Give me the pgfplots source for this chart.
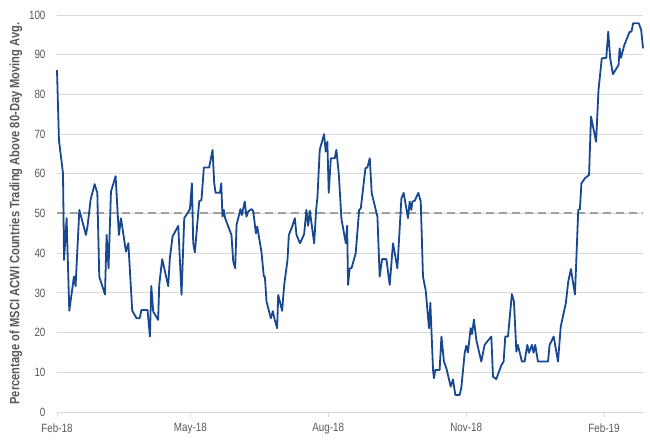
\documentclass[border=0pt]{standalone}
\usepackage{pgfplots}
\pgfplotsset{compat=1.18}
\usepackage{fontspec}
\setmainfont{Liberation Sans}[FakeStretch=0.82]
\definecolor{linecol}{RGB}{25,72,146}
\definecolor{txtgray}{RGB}{89,89,89}
\definecolor{gridgray}{RGB}{217,217,217}
\definecolor{dashgray}{RGB}{160,160,160}
\begin{document}
\begin{tikzpicture}
\begin{axis}[
  scale only axis, width=586pt, height=397pt,
  xmin=0, xmax=391, ymin=0, ymax=100,
  clip=false,
  /pgf/number format/assume math mode=true,
  separate axis lines,
  axis x line*=bottom, axis y line*=left,
  y axis line style={draw=none},
  x axis line style={draw=gridgray, line width=0.9pt},
  ytick={0,10,...,100},
  ymajorgrids,
  grid style={draw=gridgray, line width=0.9pt},
  ytick style={draw=none},
  xtick={0,89,181,273,365},
  xticklabels={Feb-18,May-18,Aug-18,Nov-18,Feb-19},
  xtick style={draw=gridgray, line width=0.8pt},
  tick align=outside, major tick length=5pt,
  ticklabel style={font=\fontsize{12}{14}\selectfont, text=txtgray},
  yticklabel style={xshift=-3pt},
  xticklabel style={yshift=-3pt},
  ylabel={Percentage of MSCI ACWI Countries Trading Above 80-Day Moving Avg.},
  every axis y label/.style={at={(axis description cs:-0.07,0.5)}, rotate=90, anchor=center,
     font=\fontsize{13.6}{15}\selectfont\bfseries, text=txtgray},
]
\addplot[draw=dashgray, line width=2pt, dash pattern=on 8pt off 5pt] coordinates {(0,50) (391,50)};
\addplot[draw=linecol, line width=1.8pt, line join=round] coordinates {
(0,86.1) (1.3,68.5) (4,60.1) (4.7,38.3) (6.4,48.8) (8.2,25.5) (11.3,34.1) (12.4,31.7)
(14.9,50.9) (19.3,44.6) (20.4,46.9) (22.4,53.4) (25.1,57.4) (26.9,55.2) (28.2,34.1)
(32,29.6) (33.1,44.6) (34.4,36.2) (36,55.5) (39.1,59.4) (41.3,44.6) (42.7,48.8)
(46,40.4) (47.6,42.5) (50.2,25.5) (53.1,23.6) (55.1,23.6) (56.4,25.7) (60.4,25.7)
(62,19.0) (62.9,31.7) (64.2,25.3) (67.5,23.2) (68.2,32) (70.2,38.5) (74.2,31.7)
(75.3,38.7) (77.1,44.2) (80.9,46.9) (83.1,29.5) (84.9,48.8) (88.7,51.1) (90,57.6)
(90.9,42.5) (92,40.2) (94.9,53.1) (96.4,53.4) (98,61.6) (101.5,61.6) (103.8,66)
(104.9,57.6) (105.8,55.2) (108.7,55.2) (109.6,57.6) (110.4,49.2) (111.3,50.9)
(112.2,48.8) (116.4,44.6) (117.6,37.9) (118.9,36.2) (119.8,47.1) (122.4,51.1)
(123.3,49.6) (125.3,53) (126.4,49.2) (127.6,50.5) (129.8,51.1) (130.9,50.7)
(132.7,45) (133.6,46.7) (136.4,40.4) (138,34.1) (138.7,34.1) (139.8,27.8)
(142.7,23.6) (144,25.4) (145.3,23.2) (146.9,21.1) (147.6,29.5) (150.2,25.5)
(151.6,32) (153.8,38.3) (154.7,44.6) (156.9,46.7) (158.7,48.8) (159.8,44.6)
(162.2,42.5) (164.9,44.8) (166.4,50.9) (167.6,46.9) (168.7,50.7) (171.6,42.5)
(172.9,50.9) (173.8,54.2) (175.3,66) (178.2,70) (179.3,65.6) (180.4,68.1)
(181.3,55.2) (182.7,63.9) (185.3,63.9) (186.4,66) (188,60.1) (189.8,48.6)
(192.7,42.5) (193.6,46.9) (194.2,32) (195.3,36.2) (196.5,36.2) (199.3,40)
(201.6,50.9) (202.7,51.3) (205.8,61.4) (207.1,61.6) (208.7,63.9) (210,55.1)
(213.8,49.2) (215.3,34.1) (216.9,38.5) (219.8,38.5) (222,32) (224.2,42.5)
(227.1,36.2) (229.8,53.8) (231.3,55.2) (234.2,48.8) (235.3,53) (236.4,50.9)
(237.1,53) (238.7,53.2) (241.1,55.2) (242.7,53) (244.2,34.1) (246,30.7)
(248.2,21.1) (249.1,27.5) (250.9,10.6) (251.5,8.5) (252.4,10.6) (255.3,10.6)
(256.5,19) (258.2,12.7) (259.8,11) (262.7,6.4) (264.2,8.2) (265.8,4.3)
(268.7,4.3) (269.8,6.2) (272,14.8) (273.1,16.7) (274.2,15) (276,21.1)
(276.9,19.6) (278.2,23.3) (279.8,18.1) (283.1,12.7) (285.3,16.9) (289.8,19)
(290.9,8.9) (293.1,8.3) (296.5,11.8) (298,12.7) (299.1,19) (300.9,19)
(303.5,29.7) (304.9,27.8) (306.5,15.2) (307.5,16.9) (310.2,12.7) (312,12.7)
(313.8,16.9) (314.9,14.9) (316.9,16.9) (318,14.9) (319.1,16.9) (320.9,12.7)
(327.6,12.7) (328.7,16.9) (331.4,19) (334.3,12.7) (336.1,21.5) (339.5,27.4)
(341.1,32.8) (342.9,36) (345.6,29.6) (347.8,50.9) (348.9,51.1) (349.9,57.6)
(352.3,58.9) (355,59.7) (356.3,74.4) (359.7,68.1) (361.3,81.1) (363.5,89.1)
(366.5,89.2) (367.8,95.8) (369.1,89.1) (370.9,85.1) (374.7,87.4) (375.4,91.6)
(376.3,89.2) (378.5,92.4) (380.3,94.1) (382.1,95.8) (383.3,95.8) (384.4,97.9)
(388.2,97.9) (389.8,96.2) (391,91.6)
};
\coordinate (bl) at (rel axis cs:0,0);
\coordinate (tr) at (rel axis cs:1,1);
\end{axis}
\pgfresetboundingbox
\path ([shift={(-57pt,-36pt)}]bl) rectangle ([shift={(7pt,15pt)}]tr);
\end{tikzpicture}
\end{document}
